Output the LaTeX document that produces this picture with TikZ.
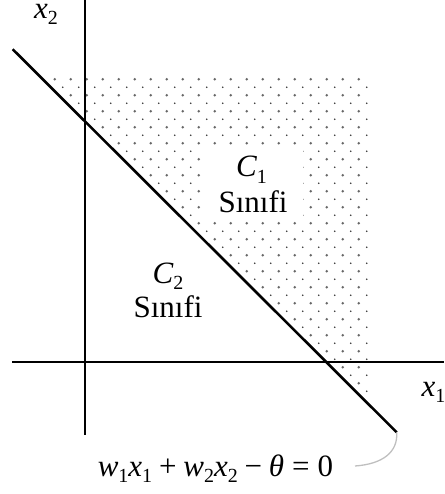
\documentclass[tikz,border=0pt]{standalone}
\usepackage{fontspec}
\setmainfont{Liberation Serif}
\newcommand\sbs[1]{\raisebox{-0.2em}{\fontsize{20}{20}\selectfont #1}}
\begin{document}
\begin{tikzpicture}[x=1pt,y=-1pt,
  axis/.style={line width=2pt,black},
  decline/.style={line width=2.6pt,black},
  bigdot/.style={fill=black!60},
  smalldot/.style={fill=black!80},
  lbl/.style={inner sep=0pt,font=\fontsize{31}{34}\selectfont},
  pointer/.style={line width=1.3pt,black!25}]
\useasboundingbox (0,0) rectangle (444,494);
% shaded region
\begin{scope}
  \clip (41,77) -- (369,77) -- (369,393) -- (357,393) -- cycle;
  \foreach \i in {0,...,20}{
    \foreach \j in {0,...,20}{
      \fill[bigdot] ({54.7+16*\i},{79.3+16*\j}) circle (1.4);
      \fill[smalldot] ({62.7+16*\i},{87.3+16*\j}) circle (0.85);
    }
  }
\end{scope}
\fill[white] (203,147) rectangle (303,219);
% axes
\coordinate (hl) at (12,362);
\coordinate (hr) at (444,362);
\coordinate (vt) at (85,0);
\coordinate (vb) at (85,435);
\draw[axis] (hl) -- (hr);
\draw[axis] (vt) -- (vb);
% decision line
\coordinate (ls) at (12.7,49.3);
\coordinate (le) at (396.7,432.3);
\draw[decline] (ls) -- (le);
% labels
\node[lbl,anchor=base west] (x2) at (34,18.5) {\textit{x}\sbs{2}};
\node[lbl,anchor=base west] (x1) at (421.5,396.5) {\textit{x}\sbs{1}};
\node[lbl,anchor=base] (c1) at (251.5,177) {\textit{C}\sbs{1}};
\node[lbl,anchor=base] (s1) at (253,212) {Sınıfi};
\node[lbl,anchor=base] (c2) at (168,283) {\textit{C}\sbs{2}};
\node[lbl,anchor=base] (s2) at (168,317) {Sınıfi};
\node[lbl,anchor=base] (eq) at (215.5,476) {\textit{w}\sbs{1}\textit{x}\sbs{1}\hspace{0.22em}+\hspace{0.22em}\textit{w}\sbs{2}\textit{x}\sbs{2}\hspace{0.22em}−\hspace{0.22em}\textit{θ}\hspace{0.26em}=\hspace{0.26em}0};
% pointer
\coordinate (ps) at (355,466);
\draw[pointer] (ps) .. controls (383,464) and (398,452) .. (le);
\end{tikzpicture}
\end{document}
